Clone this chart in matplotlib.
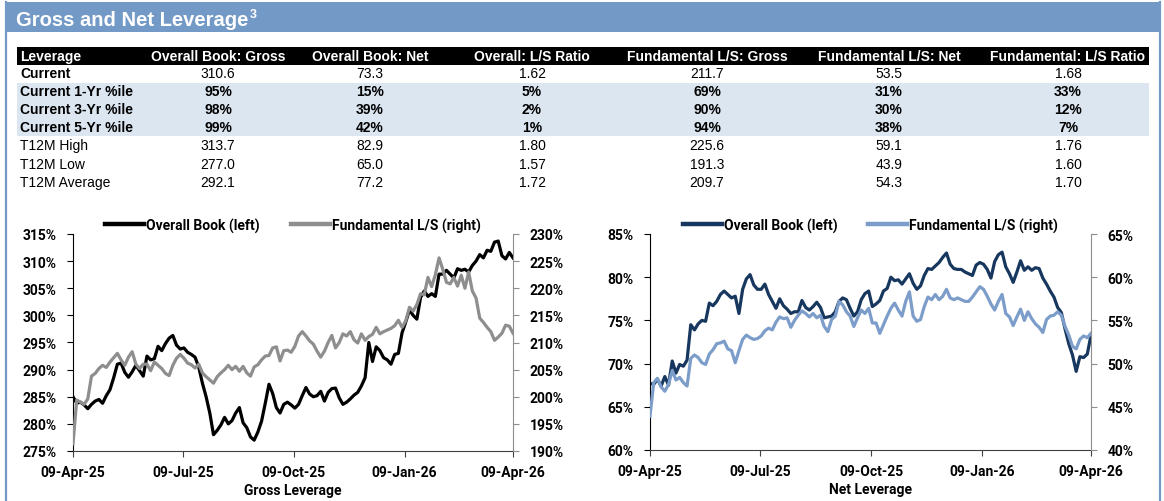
import matplotlib
matplotlib.use("Agg")
import matplotlib.pyplot as plt
import matplotlib.dates as mdates
from matplotlib.patches import Rectangle
from matplotlib.lines import Line2D
from matplotlib.text import Annotation
from matplotlib.ticker import FuncFormatter
import pandas as pd

W, H = 1164, 502

# --- table data ---
col_headers = ["Leverage", "Overall Book: Gross", "Overall Book: Net", "Overall: L/S Ratio",
               "Fundamental L/S: Gross", "Fundamental L/S: Net", "Fundamental: L/S Ratio"]
row_labels = ["Current", "Current 1-Yr %ile", "Current 3-Yr %ile", "Current 5-Yr %ile",
              "T12M High", "T12M Low", "T12M Average"]
row_values = [
    ["310.6", "73.3", "1.62", "211.7", "53.5", "1.68"],
    ["95%", "15%", "5%", "69%", "31%", "33%"],
    ["98%", "39%", "2%", "90%", "30%", "12%"],
    ["99%", "42%", "1%", "94%", "38%", "7%"],
    ["313.7", "82.9", "1.80", "225.6", "59.1", "1.76"],
    ["277.0", "65.0", "1.57", "191.3", "43.9", "1.60"],
    ["292.1", "77.2", "1.72", "209.7", "54.3", "1.70"],
]
bold_rows = [False, True, True, True, False, False, False]

# --- chart data (%), evenly spaced from 09-Apr-25 to 09-Apr-26 ---
gross_overall = [
    285.0, 283.8, 284.0, 283.5, 282.8, 283.6, 284.2, 284.5, 283.8, 285.2,
    286.3, 288.5, 291.0, 291.2, 289.5, 288.6, 289.6, 290.8, 289.8, 288.8,
    292.5, 291.8, 292.0, 294.3, 293.5, 294.8, 295.8, 296.3, 294.5, 293.8,
    294.0, 293.2, 292.8, 292.3, 290.5, 287.5, 285.0, 282.0, 278.0, 278.8,
    279.8, 281.2, 280.0, 280.6, 282.0, 283.0, 280.2, 279.3, 277.6, 277.0,
    278.5, 280.5, 283.8, 287.3, 285.6, 283.0, 282.0, 283.6, 284.0, 283.5,
    282.9, 283.6, 285.2, 286.7, 285.5, 285.0, 285.2, 286.0, 284.2, 285.8,
    286.5, 286.6, 284.8, 283.6, 284.0, 284.6, 285.3, 285.8, 287.0, 288.5,
    295.0, 291.5, 294.2, 293.5, 292.2, 291.8, 291.0, 292.8, 293.0, 296.8,
    298.8, 301.0, 300.0, 299.3, 303.3, 304.5, 303.5, 304.0, 303.5, 307.6,
    307.6, 308.3, 307.6, 306.9, 308.6, 308.3, 308.5, 308.0, 309.2, 310.0,
    311.2, 310.6, 312.0, 311.8, 313.5, 313.7, 311.0, 310.4, 311.6, 310.6,
]
gross_fund = [
    191.3, 199.4, 199.0, 198.6, 199.6, 203.8, 204.3, 205.2, 205.8, 205.4,
    206.4, 207.2, 208.0, 206.8, 205.8, 207.3, 208.3, 206.0, 205.2, 206.0,
    206.0, 204.8, 206.4, 205.8, 205.2, 204.3, 203.9, 205.8, 207.1, 207.8,
    207.1, 206.2, 205.9, 205.3, 206.0, 204.4, 203.7, 203.1, 202.5, 203.7,
    204.4, 205.0, 205.8, 205.0, 205.6, 204.7, 205.6, 204.4, 203.8, 205.5,
    205.9, 206.8, 207.5, 207.6, 209.0, 209.2, 206.6, 208.5, 208.6, 208.2,
    209.3, 211.2, 212.0, 211.2, 210.3, 209.7, 208.4, 207.3, 208.4, 210.0,
    211.3, 209.0, 210.0, 211.6, 211.2, 212.0, 210.5, 209.9, 211.6, 210.4,
    211.1, 211.5, 212.8, 211.6, 212.0, 212.3, 212.6, 213.1, 214.1, 212.8,
    214.0, 216.5, 215.8, 217.0, 219.0, 218.8, 222.0, 220.3, 222.5, 225.6,
    223.5, 221.1, 220.8, 222.0, 220.4, 222.4, 220.0, 223.0, 219.5, 218.2,
    214.5, 213.7, 212.8, 212.0, 210.4, 211.0, 211.7, 213.2, 213.0, 211.7,
]
net_overall = [
    67.7, 67.6, 68.2, 67.4, 68.5, 67.5, 70.3, 68.9, 69.9, 69.7,
    70.4, 74.5, 73.9, 74.6, 75.0, 74.9, 77.0, 76.7, 77.2, 78.0,
    78.4, 78.0, 77.6, 77.8, 75.8, 78.6, 79.8, 80.3, 79.1, 78.6,
    78.6, 79.2, 78.0, 77.2, 76.4, 77.5, 76.7, 76.3, 75.8, 76.0,
    76.0, 77.3, 76.5, 76.2, 76.6, 77.1, 76.5, 75.3, 75.4, 75.5,
    76.0, 77.2, 77.6, 77.4, 76.4, 75.5, 76.0, 77.4, 78.1, 78.4,
    76.6, 76.9, 77.3, 78.4, 78.7, 80.0, 79.6, 79.7, 79.2, 79.8,
    80.4, 79.3, 78.6, 79.0, 80.2, 81.0, 80.9, 81.3, 81.7, 82.3,
    82.8, 81.5, 81.0, 80.9, 80.9, 80.6, 80.4, 80.2, 81.4, 81.7,
    81.5, 80.9, 79.9, 81.8, 82.6, 82.9, 81.2, 80.4, 79.4, 80.6,
    81.9, 80.8, 81.2, 80.8, 81.1, 81.0, 79.9, 79.2, 78.4, 77.7,
    76.5, 75.9, 74.0, 72.3, 71.0, 69.1, 70.8, 70.7, 71.1, 73.3,
]
net_fund = [
    43.9, 47.8, 48.3, 47.3, 46.8, 47.6, 49.2, 48.1, 48.4, 47.8,
    47.4, 50.6, 51.0, 50.7, 50.1, 49.9, 51.1, 51.6, 52.3, 52.4,
    52.6, 51.7, 51.5, 50.1, 51.5, 52.8, 53.3, 53.0, 52.8, 52.9,
    53.2, 53.8, 54.1, 53.9, 54.8, 55.4, 55.2, 55.3, 54.2, 55.0,
    55.6, 56.1, 55.8, 55.4, 55.8, 55.3, 55.6, 54.3, 53.7, 55.1,
    55.5, 57.2, 56.8, 56.0, 55.5, 54.3, 55.3, 56.2, 55.8, 56.4,
    54.7, 54.7, 53.5, 54.5, 55.5, 56.4, 57.0, 56.2, 55.5, 57.2,
    58.3, 55.5, 54.9, 55.1, 56.6, 57.7, 57.4, 58.0, 57.4, 57.8,
    58.6, 57.6, 57.4, 57.6, 57.4, 57.2, 57.2, 57.7, 58.3, 58.9,
    58.6, 57.8, 56.9, 56.2, 57.2, 58.0, 55.8, 55.4, 54.4, 55.4,
    56.3, 55.0, 56.0, 55.2, 54.6, 54.2, 53.6, 55.1, 55.5, 55.6,
    56.0, 55.6, 54.3, 53.3, 52.0, 51.7, 52.8, 53.2, 53.0, 53.5,
]
dates = pd.date_range("2025-04-09", "2026-04-09", periods=len(gross_overall))
tick_dates = pd.to_datetime(["2025-04-09", "2025-07-09", "2025-10-09", "2026-01-09", "2026-04-09"])

BANNER = "#7399C6"
BAND = "#DCE6F1"
GRAY = "#8E8E8E"
NAVY = "#17375E"
LIGHT = "#7C9DC9"
TFONT = "Liberation Sans"
CFONT = "Roboto"


def fx(x):
    return x / W


def fy(y):
    return 1 - y / H


fig = plt.figure(figsize=(W / 100, H / 100), dpi=100)

# banner and side borders
fig.add_artist(Rectangle((fx(5), fy(33)), fx(1159) - fx(5), 30 / H,
                         transform=fig.transFigure, color=BANNER, lw=0))
for bx in (5.5, 1160):
    fig.add_artist(Line2D([fx(bx), fx(bx)], [fy(3), 0], transform=fig.transFigure,
                          color=BANNER, lw=1.6))
title = fig.text(fx(16), fy(20.5), "Gross and Net Leverage", color="white", fontsize=14.5,
                 fontweight="bold", family=TFONT, va="center", ha="left")
fig.add_artist(Annotation("3", xy=(1, fy(9.5)), xycoords=(title, "figure fraction"),
                          xytext=(1, 0), textcoords="offset points", color="white",
                          fontsize=9, fontweight="bold", family=TFONT, va="top", ha="left"))

# table
col_x = [20, 218, 370, 532, 707, 889, 1068]
row_y = [74, 92.5, 110.5, 128.5, 146.5, 165, 183]
fig.add_artist(Rectangle((fx(17), fy(66)), fx(1149) - fx(17), 18 / H,
                         transform=fig.transFigure, color="black", lw=0))
fig.add_artist(Rectangle((fx(17), fy(137)), fx(1149) - fx(17), 53.5 / H,
                         transform=fig.transFigure, color=BAND, lw=0))
for i, h in enumerate(col_headers):
    fig.text(fx(col_x[i]), fy(57), h, color="white", fontsize=10, fontweight="bold",
             family=TFONT, va="center", ha="left" if i == 0 else "center")
for r, lab in enumerate(row_labels):
    fig.text(fx(col_x[0]), fy(row_y[r]), lab, fontsize=10, family=TFONT, va="center",
             fontweight="bold" if (bold_rows[r] or r == 0) else "normal")
    for c, v in enumerate(row_values[r]):
        fig.text(fx(col_x[c + 1]), fy(row_y[r]), v, fontsize=10, family=TFONT,
                 va="center", ha="center",
                 fontweight="bold" if bold_rows[r] else "normal")


def pct(v, _):
    return f"{v:.0f}%"


def make_chart(box, left_vals, right_vals, left_color, right_color, left_lim, right_lim,
               xlabel, left_name, right_name):
    ax = fig.add_axes(box)
    axr = ax.twinx()
    ax.plot(dates, left_vals, color=left_color, lw=2.3, solid_joinstyle="round")
    axr.plot(dates, right_vals, color=right_color, lw=2.3, solid_joinstyle="round")
    ax.set_xlim(dates[0], dates[-1])
    ax.set_ylim(*left_lim)
    axr.set_ylim(*right_lim)
    ax.set_yticks(range(left_lim[0], left_lim[1] + 1, 5))
    axr.set_yticks(range(right_lim[0], right_lim[1] + 1, 5))
    ax.yaxis.set_major_formatter(FuncFormatter(pct))
    axr.yaxis.set_major_formatter(FuncFormatter(pct))
    ax.set_xticks(tick_dates)
    ax.xaxis.set_major_formatter(mdates.DateFormatter("%d-%b-%y"))

    for a in (ax, axr):
        a.spines["top"].set_visible(False)
        a.patch.set_visible(False)
    ax.spines["right"].set_visible(False)
    axr.spines["left"].set_visible(False)
    axr.spines["bottom"].set_visible(False)
    ax.spines["left"].set_color("black")
    ax.spines["bottom"].set_color("#404040")
    axr.spines["right"].set_color(GRAY)

    ax.tick_params(axis="y", direction="out", length=4, pad=8, colors="black", labelsize=10)
    ax.tick_params(axis="x", direction="out", length=4, pad=6, color="#404040",
                   labelcolor="black", labelsize=10)
    axr.tick_params(axis="y", direction="out", length=4, pad=8, color=GRAY,
                    labelcolor="black", labelsize=10)
    for lab in ax.get_xticklabels() + ax.get_yticklabels() + axr.get_yticklabels():
        lab.set_fontweight("bold")
        lab.set_family(CFONT)

    ax.set_xlabel(xlabel, fontsize=10, fontweight="bold", family=CFONT, labelpad=3)

    handles = [Line2D([], [], color=left_color, lw=3.2), Line2D([], [], color=right_color, lw=3.2)]
    axr.legend(handles, [left_name, right_name], loc="lower center", bbox_to_anchor=(0.5, 1.0),
               ncol=2, frameon=False, handlelength=2.8, handletextpad=0.15, columnspacing=2.2,
               borderaxespad=0, borderpad=0.1,
               prop={"family": CFONT, "weight": "bold", "size": 10})
    return ax, axr


make_chart([fx(73), fy(452), fx(513) - fx(73), 217 / H], gross_overall, gross_fund,
           "black", GRAY, (275, 315), (190, 230), "Gross Leverage",
           "Overall Book (left)", "Fundamental L/S (right)")
make_chart([fx(650), fy(451), fx(1091) - fx(650), 216 / H], net_overall, net_fund,
           NAVY, LIGHT, (60, 85), (40, 65), "Net Leverage",
           "Overall Book (left)", "Fundamental L/S (right)")

fig.savefig("out.png", dpi=100)
